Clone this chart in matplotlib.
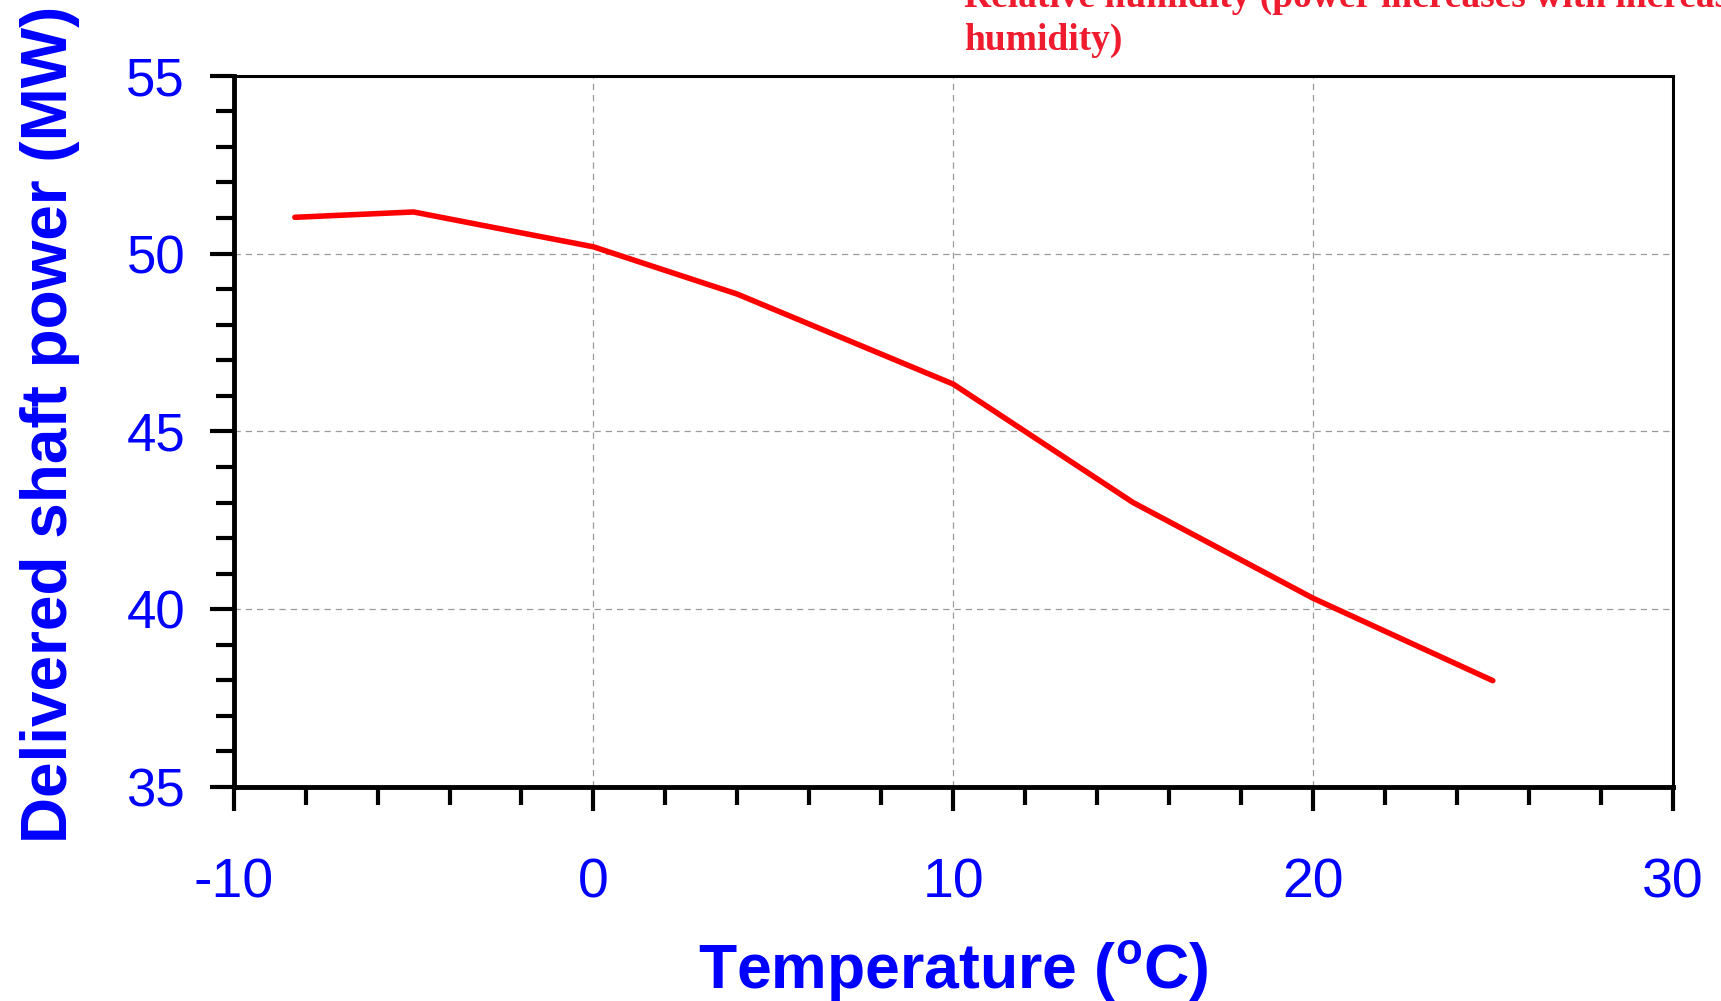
import matplotlib.pyplot as plt
from matplotlib.ticker import MultipleLocator

# data
temperature = [-8.3, -5, 0, 4, 10, 15, 20, 25]
shaft_power = [51.02, 51.17, 50.19, 48.86, 46.33, 43.0, 40.31, 37.99]

x_ticks = [-10, 0, 10, 20, 30]
y_ticks = [35, 40, 45, 50, 55]

plt.rcParams['font.family'] = ['Liberation Sans', 'DejaVu Sans']
plt.rcParams['mathtext.default'] = 'regular'
plt.rcParams['axes.unicode_minus'] = False

fig = plt.figure(figsize=(17.21, 10.01), dpi=100)
ax = fig.add_axes([0.1358, 0.2138, 0.8361, 0.7105])

ax.plot(temperature, shaft_power, color='#ff0000', lw=4, solid_capstyle='round')

ax.set_xlim(-10, 30)
ax.set_ylim(35, 55)
ax.set_xticks(x_ticks)
ax.set_yticks(y_ticks)
ax.xaxis.set_minor_locator(MultipleLocator(2))
ax.yaxis.set_minor_locator(MultipleLocator(1))

ax.grid(which='major', color='#9a9a9a', linestyle=(0, (5, 4)), lw=0.9)

ax.tick_params(which='major', direction='out', length=17, width=3, colors='black')
ax.tick_params(which='minor', direction='out', length=13, width=3, colors='black')
ax.tick_params(axis='x', which='major', pad=34, labelsize=40, labelcolor='#0000ff')
ax.tick_params(axis='y', which='major', pad=18, labelsize=38, labelcolor='#0000ff')

for side in ['left', 'bottom']:
    ax.spines[side].set_linewidth(3.5)
for side in ['top', 'right']:
    ax.spines[side].set_linewidth(2.2)

ax.set_xlabel('Temperature ($^{o}$C)', fontsize=45, fontweight='bold', color='#0000ff', va='top')
ax.xaxis.set_label_coords(0.5, -0.215)
ax.set_ylabel('Delivered shaft power (MW)', fontsize=46, fontweight='bold', color='#0000ff')
ax.yaxis.set_label_coords(-0.107, 0.51)

fig.text(0.560, 0.942, 'Relative humidity (power increases with increasing\nhumidity)',
         family=['Liberation Serif', 'DejaVu Serif'], fontweight='bold', fontsize=27,
         color='#ee1c2e', va='bottom', ha='left', linespacing=1.3)

plt.savefig('out.png', dpi=100)
